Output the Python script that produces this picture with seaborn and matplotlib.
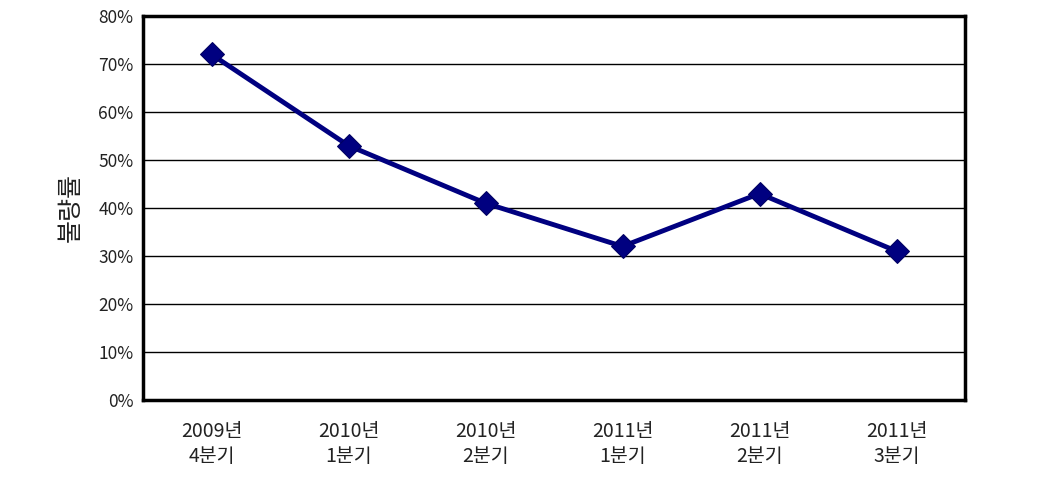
import matplotlib
matplotlib.use("Agg")
import matplotlib.pyplot as plt
import seaborn as sns
import pandas as pd

categories = ["2009년\n4분기", "2010년\n1분기", "2010년\n2분기", "2011년\n1분기", "2011년\n2분기", "2011년\n3분기"]
values = [72, 53, 41, 32, 43, 31]
yticks = [0, 10, 20, 30, 40, 50, 60, 70, 80]
ylabel = "불량률"

sns.set_style("white")
plt.rcParams['font.family'] = ['Noto Sans CJK KR', 'DejaVu Sans']

df = pd.DataFrame({"cat": categories, "val": values})

fig = plt.figure(figsize=(10.37, 5.01), dpi=100)
ax = fig.add_axes([143/1037, 1 - 400/501, (965-143)/1037, (400-16)/501])

for y in yticks[1:-1]:
    ax.axhline(y, color="black", lw=1.0, zorder=1)

sns.lineplot(data=df, x="cat", y="val", ax=ax, color="#000080", lw=3.5,
             marker="D", markersize=12, markeredgecolor="#000060",
             markerfacecolor="#000080", sort=False, zorder=3)

ax.set_xlim(-0.5, len(categories) - 0.5)
ax.set_ylim(0, 80)
ax.set_yticks(yticks)
ax.set_yticklabels([f"{v}%" for v in yticks], fontsize=12.5, color="#222222")
ax.set_xticks(range(len(categories)))
ax.set_xticklabels(categories, fontsize=14, color="#222222", linespacing=1.25)
ax.tick_params(axis="x", length=0, pad=15)
ax.tick_params(axis="y", length=0, pad=7)
ax.set_xticks([i + 0.5 for i in range(len(categories) - 1)], minor=True)
ax.tick_params(axis="x", which="minor", direction="in", length=6, width=1, color="black")
ax.set_xlabel("")
ax.set_ylabel(ylabel, fontsize=18, labelpad=10, color="#222222")
for s in ax.spines.values():
    s.set_visible(True)
    s.set_color("black")
    s.set_linewidth(2.5)

fig.savefig("out.png", dpi=100, facecolor="white")
